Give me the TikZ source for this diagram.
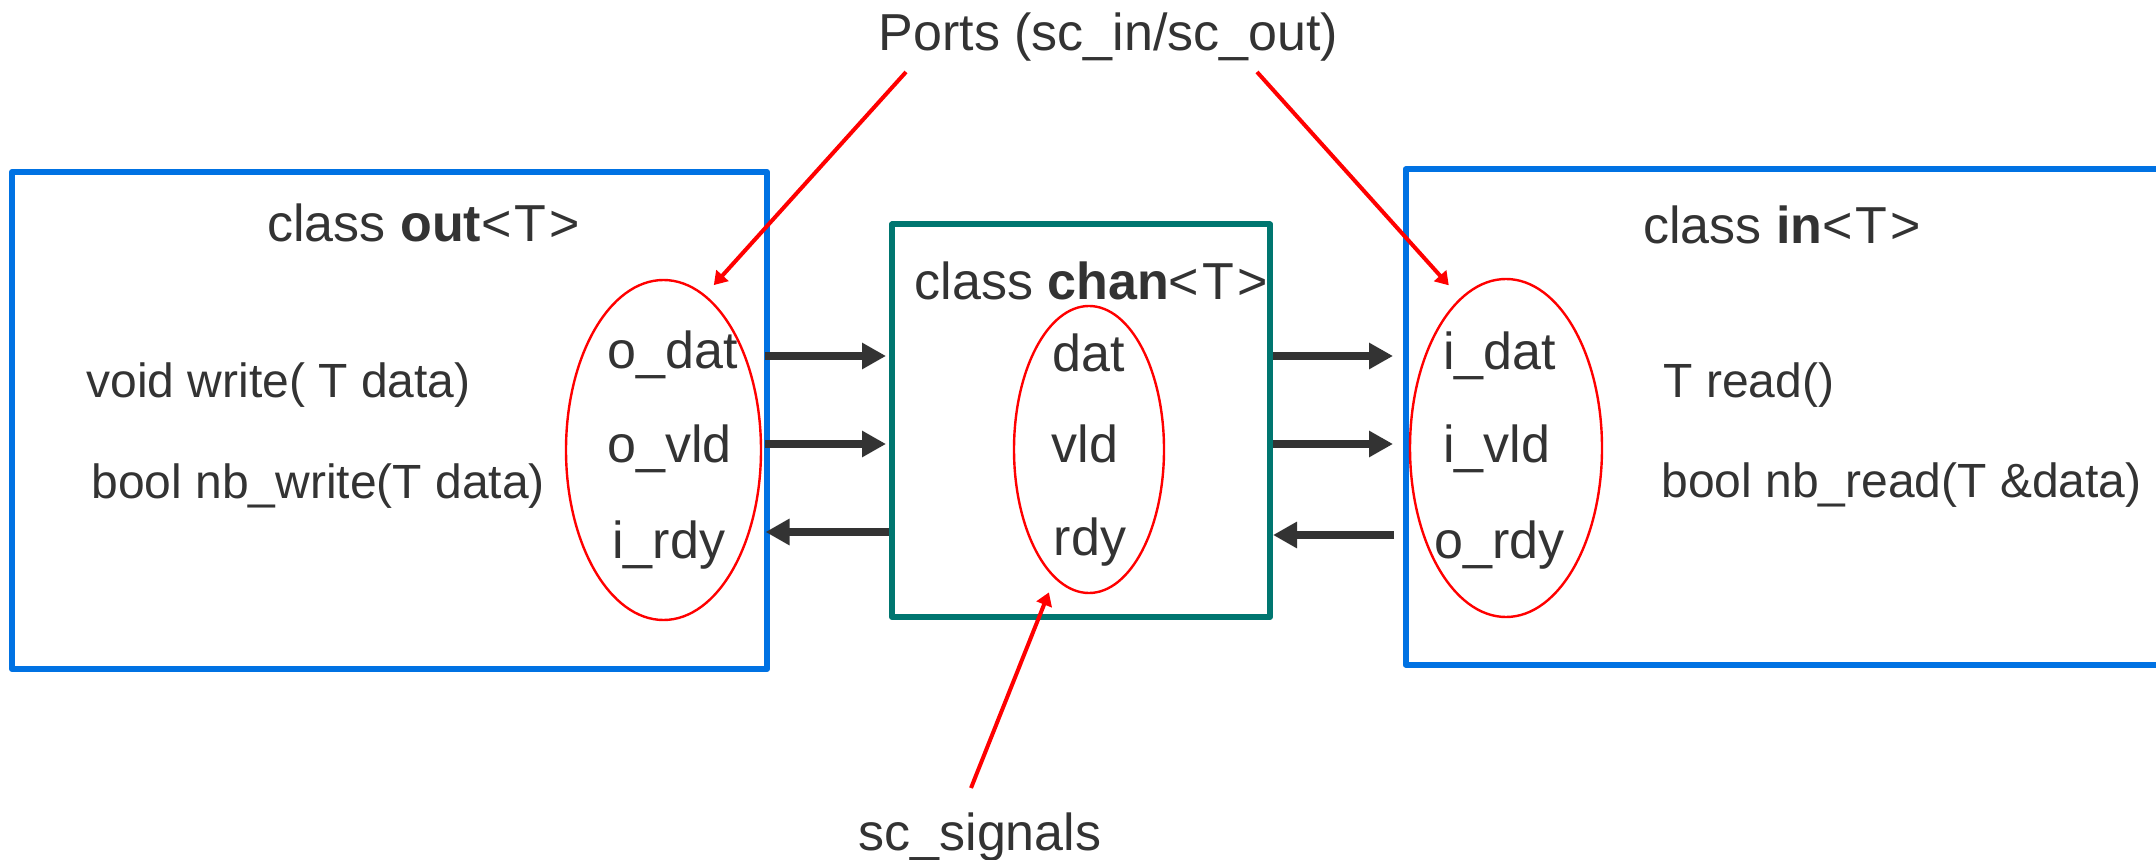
\documentclass[tikz,border=0pt]{standalone}
\usepackage{fontspec}
\setmainfont{Liberation Sans}
\usetikzlibrary{arrows.meta,shapes.geometric}
\definecolor{boxblue}{RGB}{0,114,227}
\definecolor{chanteal}{RGB}{0,118,112}
\definecolor{ink}{RGB}{51,51,51}
\definecolor{notered}{RGB}{255,0,0}
\newcommand{\tparam}{<\kern1.5pt T\kern1.5pt>}

\begin{document}
\begin{tikzpicture}[x=0.5pt,y=-0.5pt,
  classbox/.style={draw=boxblue,line width=3pt,line join=round,inner sep=0pt},
  chanbox/.style={draw=chanteal,line width=3pt,line join=round,inner sep=0pt},
  portring/.style={draw=notered,line width=1.2pt,ellipse,inner sep=0pt},
  big/.style={font=\fontsize{26}{30}\selectfont,text=ink,inner sep=0pt},
  lbl/.style={big,anchor=base west},
  method/.style={font=\fontsize{24}{28}\selectfont,text=ink,inner sep=0pt,anchor=base west},
  wire/.style={draw=ink,line width=4pt,-{Triangle[length=12pt,width=12.5pt]}},
  pointer/.style={draw=notered,line width=2pt,-{Triangle[length=6.5pt,width=8pt]}},
]
\useasboundingbox (0,0) rectangle (2156,860);
\clip (0,0) rectangle (2156,860);

% three class boxes
\node[classbox,minimum width=377.5pt,minimum height=248.5pt] (outbox) at (389.5,420.5) {};
\node[chanbox,minimum width=189pt,minimum height=196.25pt] (chanbox) at (1081,420.75) {};
\node[classbox,minimum width=382.25pt,minimum height=247.5pt] (inbox) at (1787.75,417) {};

% class titles
\node[big,anchor=base] (outtitle) at (423.5,242) {class \textbf{out}\tparam};
\node[big,anchor=base] (chantitle) at (1091,300) {class \textbf{chan}\tparam};
\node[big,anchor=base] (intitle) at (1782,244) {class \textbf{in}\tparam};

% member functions
\node[method] (write) at (86,398) {void write( T data)};
\node[method] (nbwrite) at (91,499) {bool nb\_write(T data)};
\node[method] (read) at (1663,398) {T read()};
\node[method] (nbread) at (1661,498) {bool nb\_read(T \&data)};

% port groups
\node[portring,minimum width=97.5pt,minimum height=170pt] (lring) at (663.5,450) {};
\node[portring,minimum width=75pt,minimum height=143.5pt] (cring) at (1089,449.5) {};
\node[portring,minimum width=96pt,minimum height=169pt] (rring) at (1506,448) {};

\node[lbl] (odat) at (607,369) {o\_dat};
\node[lbl] (ovld) at (607,463) {o\_vld};
\node[lbl] (irdy) at (612,558) {i\_rdy};

\node[big,anchor=base] (cdat) at (1089,372) {dat};
\node[big,anchor=base] (cvld) at (1085,463) {vld};
\node[big,anchor=base] (crdy) at (1090,555) {rdy};

\node[lbl] (idat) at (1443,370) {i\_dat};
\node[lbl] (ivld) at (1443,462.5) {i\_vld};
\node[lbl] (ordy) at (1434,559) {o\_rdy};

% signal levels
\coordinate (ydat) at (0,356);
\coordinate (yvld) at (0,444);
\coordinate (yrdyl) at (0,532);
\coordinate (yrdyr) at (0,535);

% wires between the boxes
\draw[wire,shorten <=-2.5pt,shorten >=1.5pt] (outbox.east |- ydat) -- (chanbox.west |- ydat);
\draw[wire,shorten <=-2.5pt,shorten >=1.5pt] (outbox.east |- yvld) -- (chanbox.west |- yvld);
\draw[wire,shorten >=-2.25pt] (chanbox.west |- yrdyl) -- (outbox.east |- yrdyl);
\draw[wire,shorten >=4.75pt] (chanbox.east |- ydat) -- (inbox.west |- ydat);
\draw[wire,shorten >=4.75pt] (chanbox.east |- yvld) -- (inbox.west |- yvld);
\draw[wire,shorten <=4.25pt] (inbox.west |- yrdyr) -- (chanbox.east |- yrdyr);

% annotations
\node[big,anchor=base] (ports) at (1108.5,51) {Ports (sc\_in/sc\_out)};
\node[big,anchor=base] (signals) at (980,850) {sc\_signals};
\coordinate (pl) at (906,72);
\coordinate (pr) at (1257,72);
\coordinate (ps) at (971,788);
\draw[pointer,shorten >=6.5pt] (pl) -- (lring.75);
\draw[pointer,shorten >=8.5pt] (pr) -- (rring.107);
\draw[pointer,shorten >=7.5pt] (ps) -- (cring.255.5);
\end{tikzpicture}
\end{document}
